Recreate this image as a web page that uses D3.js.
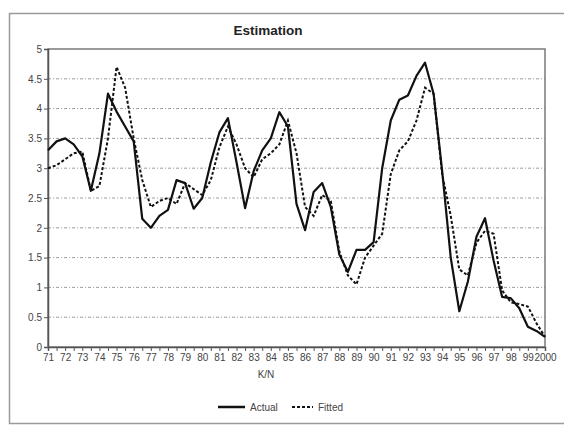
<!DOCTYPE html>
<html>
<head>
<meta charset="utf-8">
<script src="https://cdn.jsdelivr.net/npm/d3@7"></script>
<style>
  html, body { margin: 0; padding: 0; background: #fff; }
  svg { display: block; font-family: "Liberation Sans", Arial, sans-serif; }
</style>
</head>
<body>
<svg id="chart" width="564" height="428"></svg>
<script>
// ---- data (semi-annual observations, 1971 to 2000) ----
const yearLabels = ["71","72","73","74","75","76","77","78","79","80","81","82","83","84","85",
                    "86","87","88","89","90","91","92","93","94","95","96","97","98","99","2000"];
const periods = [];
yearLabels.forEach((y, i) => {
  periods.push(y + "H1");
  if (i < yearLabels.length - 1) periods.push(y + "H2");
});
const actual = [3.30,3.45,3.50,3.40,3.20,2.62,3.25,4.25,3.95,3.70,3.45,2.15,2.00,2.20,2.30,2.80,
                2.75,2.32,2.50,3.10,3.60,3.84,3.10,2.33,2.95,3.30,3.50,3.94,3.70,2.40,1.96,2.60,
                2.75,2.35,1.55,1.26,1.63,1.63,1.76,3.00,3.80,4.15,4.22,4.55,4.77,4.25,2.95,1.50,
                0.60,1.10,1.85,2.16,1.45,0.84,0.82,0.65,0.34,0.27,0.17];
const fitted = [3.00,3.05,3.15,3.25,3.28,2.62,2.70,3.50,4.70,4.35,3.50,2.80,2.35,2.45,2.50,2.40,
                2.75,2.65,2.55,2.80,3.35,3.70,3.40,3.00,2.85,3.15,3.25,3.40,3.80,3.25,2.35,2.20,
                2.55,2.45,1.60,1.20,1.05,1.50,1.70,1.90,2.90,3.30,3.45,3.80,4.35,4.25,2.90,2.20,
                1.30,1.20,1.75,1.95,1.90,0.95,0.75,0.72,0.68,0.40,0.17];
const yTicks = [0,0.5,1,1.5,2,2.5,3,3.5,4,4.5,5];
const seriesNames = ["Actual","Fitted"];

const svg = d3.select("#chart");

// outer chart frame
svg.append("rect").attr("x",9.5).attr("y",13.5).attr("width",560).attr("height",410)
  .attr("fill","none").attr("stroke","#9a9a9a").attr("stroke-width",1.5);

const L = 48, R = 545, T = 49, B = 347;
const x = d3.scalePoint().domain(periods).range([L, R]);
const y = d3.scaleLinear().domain([0,5]).range([B, T]);

// gridlines
svg.append("g").selectAll("line").data(yTicks.filter(d => d > 0 && d < 5)).join("line")
  .attr("x1", L).attr("x2", R).attr("y1", d => y(d)).attr("y2", d => y(d))
  .attr("stroke","#9c9c9c").attr("stroke-width",1).attr("stroke-dasharray","3,2,1,2");

// plot border
svg.append("rect").attr("x",L).attr("y",T).attr("width",R-L).attr("height",B-T)
  .attr("fill","none").attr("stroke","#7a7a7a").attr("stroke-width",1.5);

// y axis
const yAxis = svg.append("g").attr("transform",`translate(${L},0)`)
  .call(d3.axisLeft(y).tickValues(yTicks).tickSize(4).tickPadding(2).tickFormat(d3.format("")));
yAxis.select(".domain").attr("stroke","#555").attr("stroke-width",1.5);
yAxis.selectAll(".tick line").attr("stroke","#555");
yAxis.selectAll("text").attr("fill","#444").style("font-size","10px");

// x axis
const xAxis = svg.append("g").attr("transform",`translate(0,${B})`)
  .call(d3.axisBottom(x).tickSize(4).tickPadding(3)
    .tickFormat(d => d.endsWith("H1") ? d.slice(0, -2) : ""));
xAxis.select(".domain").attr("stroke","#555").attr("stroke-width",1.5);
xAxis.selectAll(".tick line").attr("stroke","#555");
xAxis.selectAll("text").attr("fill","#444").style("font-size","10px");

// axis title
svg.append("text").attr("x",266).attr("y",378).attr("text-anchor","middle")
  .attr("fill","#444").style("font-size","10px").text("K/N");

// title
svg.append("text").attr("x",268).attr("y",35).attr("text-anchor","middle")
  .attr("fill","#222").style("font-size","13.5px").style("font-weight","bold").text("Estimation");

// lines
const line = d3.line().x((d,i) => x(periods[i])).y(d => y(d));
svg.append("path").datum(fitted).attr("d", line).attr("fill","none")
  .attr("stroke","#111").attr("stroke-width",2).attr("stroke-dasharray","3,2");
svg.append("path").datum(actual).attr("d", line).attr("fill","none")
  .attr("stroke","#111").attr("stroke-width",2.2).attr("stroke-linejoin","round");

// legend
const lg = svg.append("g");
lg.append("line").attr("x1",218).attr("x2",245).attr("y1",407).attr("y2",407)
  .attr("stroke","#111").attr("stroke-width",2.5);
lg.append("text").attr("x",250).attr("y",411).attr("fill","#444").style("font-size","10px").text(seriesNames[0]);
lg.append("line").attr("x1",292).attr("x2",313).attr("y1",407).attr("y2",407)
  .attr("stroke","#111").attr("stroke-width",2).attr("stroke-dasharray","3,2");
lg.append("text").attr("x",318).attr("y",411).attr("fill","#444").style("font-size","10px").text(seriesNames[1]);
</script>
</body>
</html>
